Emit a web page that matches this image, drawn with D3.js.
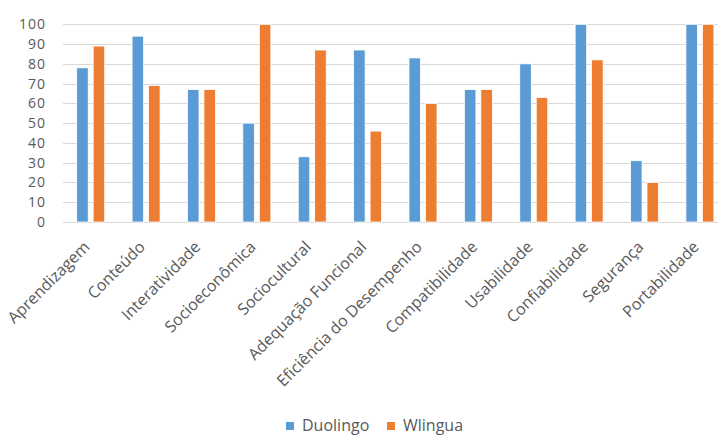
<!DOCTYPE html>
<html><head><meta charset="utf-8">
<script src="https://cdn.jsdelivr.net/npm/d3@7"></script>
<style>body{margin:0;background:#fff}svg{display:block}</style>
</head><body>
<svg id="c" width="718" height="435"></svg>
<script>
const categories = ["Aprendizagem","Conteúdo","Interatividade","Socioeconômica","Sociocultural","Adequação Funcional","Eficiência do Desempenho","Compatibilidade","Usabilidade","Confiabilidade","Segurança","Portabilidade"];
const duolingo = [78,94,67,50,33,87,83,67,80,100,31,100];
const wlingua  = [89,69,67,100,87,46,60,67,63,82,20,100];
const seriesNames = ["Duolingo","Wlingua"];
const colors = ["#5B9BD5","#ED7D31"];
const yTicks = [0,10,20,30,40,50,60,70,80,90,100];

const svg = d3.select("#c");
const font = "'Open Sans', sans-serif";
const x = d3.scaleBand().domain(categories).range([63, 727.6]).paddingInner(0).paddingOuter(0);
const y = d3.scaleLinear().domain([0,100]).range([222, 24.3]);
const x1 = d3.scaleBand().domain(seriesNames).range([x.bandwidth()/2-14, x.bandwidth()/2+14]).paddingInner(0.3);

// grid
svg.append("g").selectAll("line").data(yTicks).join("line")
  .attr("x1", 63).attr("x2", 718)
  .attr("y1", d=>Math.round(y(d))+0.5).attr("y2", d=>Math.round(y(d))+0.5)
  .attr("stroke", "#d9d9d9").attr("stroke-width", 1);

// y axis labels
const yAxis = d3.axisLeft(y).tickValues(yTicks).tickSize(0).tickPadding(0);
const yg = svg.append("g").attr("transform","translate(46,0)").call(yAxis);
yg.select(".domain").remove();
yg.selectAll("text").attr("font-family", font).attr("font-size", 14).attr("letter-spacing", 1)
  .attr("fill", "#595959").attr("x", 0);

// bars
const data = categories.map((c,i)=>({c, vals:[duolingo[i], wlingua[i]]}));
const groups = svg.append("g").selectAll("g").data(data).join("g")
  .attr("transform", d=>`translate(${x(d.c)},0)`);
groups.selectAll("rect").data(d=>d.vals.map((v,j)=>({v, s:seriesNames[j], j})))
  .join("rect")
  .attr("x", d=>x1(d.s)).attr("width", x1.bandwidth())
  .attr("y", d=>y(d.v)).attr("height", d=>y(0)-y(d.v))
  .attr("fill", d=>colors[d.j]).attr("stroke", "#fff").attr("stroke-width", 0.8);

// x axis
const xAxis = d3.axisBottom(x).tickSize(0).tickPadding(0);
const xg = svg.append("g").attr("transform","translate(0,222)").call(xAxis);
xg.select(".domain").remove();
xg.selectAll("text")
  .attr("font-family", font).attr("font-size", 16).attr("fill", "#595959")
  .attr("text-anchor","end").attr("dy", null).attr("y", 0)
  .attr("transform","translate(0,26) rotate(-45)");

// legend
const leg = svg.append("g");
const items = [{n:"Duolingo",x:286},{n:"Wlingua",x:387}];
items.forEach((it,i)=>{
  leg.append("rect").attr("x", it.x).attr("y", 422).attr("width", 8).attr("height", 8).attr("fill", colors[i]);
  leg.append("text").attr("x", it.x+16).attr("y", 431).attr("font-family", font).attr("font-size", 16)
    .attr("fill","#595959").text(it.n);
});
</script>
</body></html>
